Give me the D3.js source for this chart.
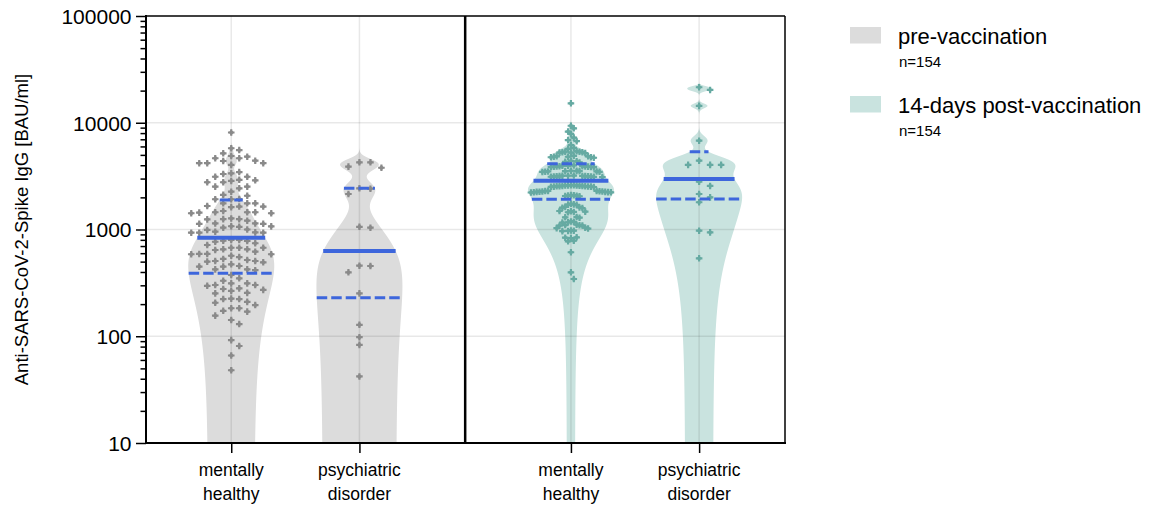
<!DOCTYPE html>
<html><head><meta charset="utf-8">
<script src="https://cdn.jsdelivr.net/npm/d3@7"></script>
<style>
body{margin:0;background:#fff}
svg{display:block}
text{font-family:"Liberation Sans",Arial,Helvetica,sans-serif;fill:#000}
</style>
</head><body>
<svg id="chart" width="1152" height="506"></svg>
<script>
// ---------- data ----------
const timepoints = ["pre-vaccination", "14-days post-vaccination"];
const timepointN = ["n=154", "n=154"];
const categories = ["mentally healthy", "psychiatric disorder"];
const categoryLines = [["mentally", "healthy"], ["psychiatric", "disorder"]];
const yTitle = "Anti-SARS-CoV-2-Spike IgG [BAU/ml]";
const yTickValues = [10, 100, 1000, 10000, 100000];

const preHealthy = [
  1245, 1072, 933, 743, 643, 552, 416,
  4650, 4180, 3450, 2920, 2070, 1760, 1490, 1270, 1130, 933, 568, 331, 277,
  4880, 4180, 3120, 2770, 1930, 1760, 1450, 1210, 1000, 768, 675, 590, 518, 455, 272, 225,
  4410, 3120, 2770, 2520, 1640, 1450, 1250, 1140, 933, 780, 675, 586, 500, 449, 375, 313, 281, 252, 223, 196, 170, 130,
  8100, 5770, 4650, 4030, 3360, 2520, 2110, 1620, 1420, 1140, 990, 797, 716, 620, 530, 449, 349, 302, 266, 206, 183, 156, 92, 81, 66, 48,
  5170, 4180, 2430, 1760, 1420, 1250, 1040, 797, 652, 507, 423, 302, 210, 173, 142,
  5550, 4810, 2850, 2260, 1920, 1640, 1440, 1060, 785, 675, 586, 493, 313, 255, 223, 183,
  4380, 3310, 2890, 1920, 1660, 1450, 1130, 954, 590, 472, 297,
  1070, 940, 652, 507, 423
];
const prePsych = [4260, 4260, 3880, 3790, 2430, 2410, 2150, 1060, 1040, 458, 455, 397, 252, 128, 98, 83, 42];
const postHealthy = [
  15200,
  9370, 8870, 8270, 7860, 7250, 6880, 6730, 6190, 5810, 5700,
  5400, 5350, 5300, 5300, 5250, 5200, 5350, 5250,
  4900, 4850, 4800, 4800, 4750, 4700, 4850, 4750,
  4400, 4350, 4300, 4250,
  3980, 3950, 3920, 3900, 3900, 3880, 3860, 3850, 3950, 3920, 3870, 3840,
  3550, 3520, 3500, 3480, 3470, 3520, 3500, 3460, 3540,
  3200, 3180, 3160, 3150, 3140, 3120, 3100, 3170, 3130, 3190, 3110, 3150, 3160,
  2600, 2590, 2580, 2570, 2560, 2550, 2540, 2530, 2520, 2510, 2500, 2600, 2580, 2560, 2540, 2520,
  2300, 2290, 2280, 2270, 2260, 2250, 2240, 2230, 2220, 2300, 2270, 2250, 2230,
  2100, 2080, 2070, 2060, 2050, 2090,
  1740, 1720, 1710, 1700, 1630, 1610, 1600, 1590, 1490, 1480, 1470, 1460, 1450,
  1310, 1300, 1290, 1190, 1180, 1170, 1160, 1110, 1100, 1095, 1090, 1085,
  1040, 1030, 1020, 980, 975, 970, 965, 845, 838, 830, 785, 775, 612, 397, 344
];
const postPsych = [21500, 20300, 14400, 6790, 4410, 4030, 4030, 4030, 2800, 2560, 2150, 2000, 1800, 975, 940, 537];

const medians   = [838, 629, 2866, 2972];
const quartile1 = [389, 230, 1918, 1930];
const quartile3 = [1888, 2430, 4137, 5354];
const bandwidths = [300, 450, 440, 720]; // KDE bandwidth (linear BAU/ml)

// ---------- style / layout ----------
const plot = {left: 146, right: 785, top: 16, bottom: 443};
const violinFill = ["#dcdcdc", "#c9e3df"];
const pointFill = ["#8a8a8a", "#66aaa2"];
const blue = "#3d66dc";
const maxHalf = 43;
const panelGap = 2.65;

const groups = [
  {tp: 0, cat: 0, values: preHealthy},
  {tp: 0, cat: 1, values: prePsych},
  {tp: 1, cat: 0, values: postHealthy},
  {tp: 1, cat: 1, values: postPsych}
].map((g, i) => Object.assign(g, {i, pos: g.tp * panelGap + g.cat,
  median: medians[i], q1: quartile1[i], q3: quartile3[i], bw: bandwidths[i]}));

const svg = d3.select("#chart");
const y = d3.scaleLog().domain([10, 100000]).range([plot.bottom, plot.top]);
const x = d3.scaleLinear().domain([-0.665, panelGap + 1 + 0.67]).range([plot.left, plot.right]);
const dividerX = x((1 + panelGap) / 2);

svg.append("defs").append("clipPath").attr("id", "clip")
  .append("rect").attr("x", plot.left).attr("y", plot.top)
  .attr("width", plot.right - plot.left).attr("height", plot.bottom - plot.top);

// ---------- violins ----------
function kde(vals, h) {
  return v => d3.sum(vals, xi => Math.exp(-0.5 * ((v - xi) / h) ** 2));
}
const violinLayer = svg.append("g").attr("clip-path", "url(#clip)");
groups.forEach(g => {
  const f = kde(g.values, g.bw);
  const samples = d3.range(plot.top, plot.bottom + 0.5, 0.5).map(py => ({py, d: f(y.invert(py))}));
  const maxD = d3.max(samples, s => s.d);
  g.halfW = v => f(v) / maxD * maxHalf;
  g.cx = x(g.pos);
  const area = d3.area().y(s => s.py)
    .x0(s => g.cx - s.d / maxD * maxHalf).x1(s => g.cx + s.d / maxD * maxHalf);
  violinLayer.append("path").datum(samples).attr("d", area)
    .attr("fill", violinFill[g.tp]);
});

// ---------- grid ----------
const grid = svg.append("g").attr("stroke", "rgba(0,0,0,0.09)").attr("stroke-width", 1.5);
grid.selectAll("line.h").data([100, 1000, 10000]).join("line")
  .attr("x1", plot.left).attr("x2", plot.right)
  .attr("y1", d => y(d)).attr("y2", d => y(d));
grid.selectAll("line.v").data(groups).join("line")
  .attr("x1", d => x(d.pos)).attr("x2", d => x(d.pos))
  .attr("y1", plot.top).attr("y2", plot.bottom);

// ---------- points (beeswarm) ----------
function swarm(vals, rowH) {
  const pts = vals.map(v => ({v, py: y(v)})).sort((a, b) => a.py - b.py);
  const placed = [];
  pts.forEach(p => {
    for (let k = 0; ; k++) {
      const s = k === 0 ? 0 : (k % 2 ? (k + 1) / 2 : -k / 2);
      if (!placed.some(q => q.s === s && Math.abs(q.py - p.py) < rowH)) {
        p.s = s; placed.push(p); break;
      }
    }
  });
  return pts;
}
const cross = d3.symbol().type(d3.symbolCross).size(24);
const diamond = d3.symbol().type(d3.symbolDiamond2).size(18);
groups.forEach(g => {
  const pts = swarm(g.values, 7.5);
  const maxS = d3.max(pts, p => Math.abs(p.s)) || 1;
  const step = Math.min(11, 40 / maxS);
  const pg = svg.append("g").attr("fill", pointFill[g.tp]);
  const sel = pg.selectAll("g").data(pts).join("g")
    .attr("transform", p => `translate(${g.cx + p.s * step},${p.py})`);
  sel.append("path").attr("d", cross);
  sel.append("path").attr("d", diamond);
});

// ---------- median / quartile lines ----------
const lines = svg.append("g");
groups.forEach(g => {
  [[g.median, 4, null], [g.q1, 3, "10.5,4"], [g.q3, 3, "10.5,4"]].forEach(([v, sw, dash]) => {
    const hw = Math.max(g.halfW(v), 6);
    lines.append("line")
      .attr("x1", g.cx - hw).attr("x2", g.cx + hw)
      .attr("y1", y(v)).attr("y2", y(v))
      .attr("stroke", blue).attr("stroke-width", sw)
      .attr("stroke-dasharray", dash);
  });
});

// ---------- axes & frame ----------
const minorTicks = [];
yTickValues.slice(0, -1).forEach(t => { for (let m = 2; m <= 9; m++) minorTicks.push(t * m); });
const yAxisG = svg.append("g").attr("transform", `translate(${plot.left},0)`)
  .call(d3.axisLeft(y).tickValues(yTickValues.concat(minorTicks))
    .tickFormat(d => yTickValues.includes(d) ? d3.format("d")(d) : "").tickSizeOuter(0));
yAxisG.select(".domain").remove();
yAxisG.selectAll(".tick line")
  .attr("x2", d => yTickValues.includes(d) ? -10 : -5.5)
  .attr("stroke", "#000").attr("stroke-width", 1.5);
yAxisG.selectAll(".tick text").attr("x", -14.5).attr("dy", "0.35em")
  .style("font-size", "21px").style("font-family", "'Liberation Sans',Arial,sans-serif");

const xAxisG = svg.append("g").attr("transform", `translate(0,${plot.bottom})`)
  .call(d3.axisBottom(x).tickValues(groups.map(g => g.pos)).tickFormat("").tickSize(10).tickSizeOuter(0));
xAxisG.select(".domain").remove();
xAxisG.selectAll(".tick line").attr("stroke", "#000").attr("stroke-width", 1.5);

const xl = svg.append("g").selectAll("text").data(groups).join("text")
  .attr("text-anchor", "middle").style("font-size", "17.5px");
xl.each(function(g) {
  const t = d3.select(this);
  categoryLines[g.cat].forEach((s, j) => {
    t.append("tspan").attr("x", x(g.pos)).attr("y", 476 + j * 24).text(s);
  });
});

const frame = svg.append("g").attr("stroke", "#000").attr("fill", "none");
frame.append("line").attr("x1", plot.left).attr("x2", plot.left).attr("y1", plot.top - 1).attr("y2", plot.bottom + 1).attr("stroke-width", 2);
frame.append("line").attr("x1", plot.left - 1).attr("x2", plot.right + 1).attr("y1", plot.bottom).attr("y2", plot.bottom).attr("stroke-width", 2);
frame.append("line").attr("x1", plot.left).attr("x2", plot.right).attr("y1", plot.top).attr("y2", plot.top).attr("stroke-width", 1.5);
frame.append("line").attr("x1", plot.right).attr("x2", plot.right).attr("y1", plot.top).attr("y2", plot.bottom).attr("stroke-width", 1.5);
frame.append("line").attr("x1", dividerX).attr("x2", dividerX).attr("y1", plot.top).attr("y2", plot.bottom).attr("stroke-width", 2.5);

svg.append("text")
  .attr("transform", `translate(22,${(plot.top + plot.bottom) / 2}) rotate(-90)`)
  .attr("text-anchor", "middle").attr("dy", "0.35em")
  .style("font-size", "18.5px").text(yTitle);

// ---------- legend ----------
const leg = svg.append("g").selectAll("g").data(timepoints).join("g")
  .attr("transform", (d, i) => `translate(850,${27 + i * 69})`);
leg.append("rect").attr("width", 31).attr("height", 16.5).attr("fill", (d, i) => violinFill[i]);
leg.append("text").attr("x", 48).attr("y", 17).style("font-size", "22px").text(d => d);
leg.append("text").attr("x", 49).attr("y", 40).style("font-size", "15px").text((d, i) => timepointN[i]);
</script>
</body></html>
